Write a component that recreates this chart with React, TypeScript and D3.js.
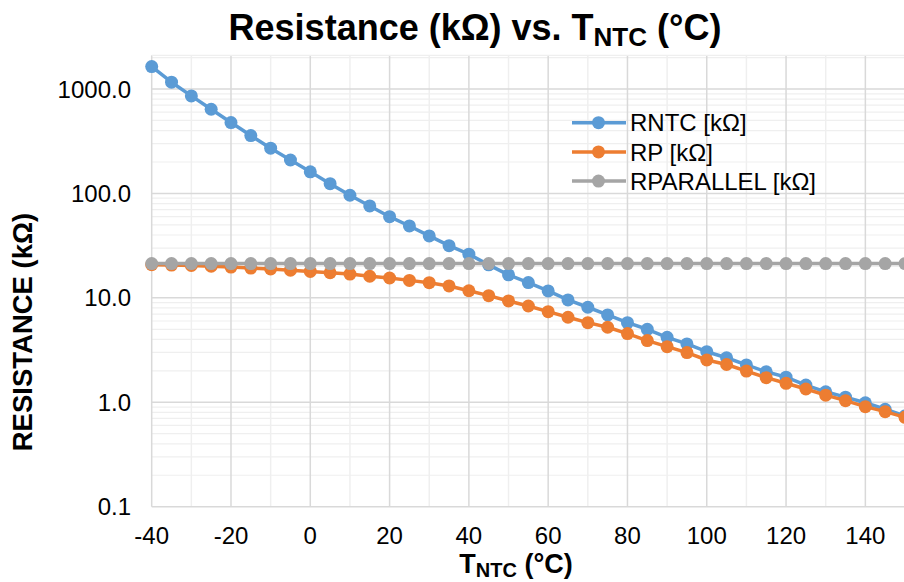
import React from "react";
import * as d3 from "d3";

const temps = [-40,-35,-30,-25,-20,-15,-10,-5,0,5,10,15,20,25,30,35,40,45,50,55,60,65,70,75,80,85,90,95,100,105,110,115,120,125,130,135,140,145,150];
const rntc = [1639,1162,859,640,477,358,271,209,161,124,96.1,75.9,59.9,48.8,39.2,31.6,26.2,20.7,16.6,14.0,11.65,9.55,8.13,6.86,5.78,5.0,4.19,3.62,3.05,2.67,2.28,1.96,1.74,1.46,1.26,1.12,0.99,0.857,0.739];
const rp = [20.8,20.6,20.4,20.1,19.7,19.3,18.9,18.4,17.9,17.4,16.9,16.1,15.5,14.7,13.98,13.0,11.7,10.5,9.34,8.36,7.38,6.52,5.79,5.23,4.55,3.9,3.41,2.99,2.54,2.3,1.99,1.72,1.52,1.34,1.17,1.036,0.908,0.813,0.718];
const rparallel = [21.3,21.3,21.3,21.3,21.3,21.3,21.3,21.3,21.3,21.3,21.3,21.3,21.3,21.3,21.3,21.3,21.3,21.3,21.3,21.3,21.3,21.3,21.3,21.3,21.3,21.3,21.3,21.3,21.3,21.3,21.3,21.3,21.3,21.3,21.3,21.3,21.3,21.3,21.3];
const seriesNames = ["RNTC [kΩ]", "RP [kΩ]", "RPARALLEL [kΩ]"];
const seriesColors = ["#5B9BD5", "#ED7D31", "#A5A5A5"];
const xTicks = [-40,-20,0,20,40,60,80,100,120,140];
const yTicks = [0.1,1,10,100,1000];
const yTickLabels = ["0.1","1.0","10.0","100.0","1000.0"];

const W = 904, H = 582;
const FONT = "'Liberation Sans', Arial, sans-serif";

export default function App() {
  const x = d3.scaleLinear().domain([-40, 150]).range([151.7, 905]);
  const y = d3.scaleLog().domain([0.1, 1000]).range([506.7, 89]);
  const yTop = y(2100);
  const yBot = y(0.1);
  const line = d3.line<[number, number]>().x(d => x(d[0])).y(d => y(d[1]));
  const allSeries = [rntc, rp, rparallel];

  const minorY: number[] = [];
  [0.1, 1, 10, 100, 1000].forEach(dec => {
    for (let k = 2; k <= 9; k++) {
      const v = dec * k;
      if (v <= 2000) minorY.push(v);
    }
  });
  const minorX = d3.range(-30, 151, 20);

  return (
    <svg width={W} height={H} style={{ position: "absolute", left: 0, top: 0, background: "#fff" }} fontFamily={FONT}>
      <rect x={0} y={0} width={W} height={H} fill="#fff" />
      {/* minor grid */}
      {minorY.map((v, i) => (
        <line key={"my" + i} x1={x(-40)} x2={x(150)} y1={y(v)} y2={y(v)} stroke="#efefef" strokeWidth={1.2} />
      ))}
      {minorX.map((v, i) => (
        <line key={"mx" + i} x1={x(v)} x2={x(v)} y1={yTop} y2={yBot} stroke="#efefef" strokeWidth={1.5} />
      ))}
      {/* major grid */}
      {yTicks.map((v, i) => (
        <line key={"gy" + i} x1={x(-40)} x2={x(150)} y1={y(v)} y2={y(v)} stroke="#d9d9d9" strokeWidth={1.5} />
      ))}
      {xTicks.map((v, i) => (
        <line key={"gx" + i} x1={x(v)} x2={x(v)} y1={yTop} y2={yBot} stroke="#d9d9d9" strokeWidth={1.5} />
      ))}
      <line x1={x(-40)} x2={x(150)} y1={yTop} y2={yTop} stroke="#efefef" strokeWidth={1.2} />

      {/* series */}
      {allSeries.map((s, si) => {
        const pts = temps.map((t, i) => [t, s[i]] as [number, number]);
        return (
          <g key={"s" + si}>
            <path d={line(pts) || ""} fill="none" stroke={seriesColors[si]} strokeWidth={3.5} strokeLinejoin="round" />
            {pts.map((p, i) => (
              <circle key={i} cx={x(p[0])} cy={y(p[1])} r={6.5} fill={seriesColors[si]} />
            ))}
          </g>
        );
      })}

      {/* y tick labels */}
      {yTicks.map((v, i) => (
        <text key={"yt" + i} x={131} y={y(v)} dy="0.36em" textAnchor="end" fontSize={24} fill="#000">{yTickLabels[i]}</text>
      ))}
      {/* x tick labels */}
      {xTicks.map((v, i) => (
        <text key={"xt" + i} x={x(v)} y={544} textAnchor="middle" fontSize={24} fill="#000">{v}</text>
      ))}

      {/* title */}
      <text x={475} y={40} textAnchor="middle" fontSize={36} fontWeight="bold" fill="#000">
        Resistance (kΩ) vs. T<tspan fontSize={26} dy={6}>NTC</tspan><tspan dy={-6}> (°C)</tspan>
      </text>

      {/* x axis title */}
      <text x={516} y={573} textAnchor="middle" fontSize={27} fontWeight="bold" fill="#000">
        T<tspan fontSize={20} dy={4}>NTC</tspan><tspan dy={-4}> (°C)</tspan>
      </text>

      {/* y axis title */}
      <text transform={`translate(32, ${332}) rotate(-90)`} textAnchor="middle" fontSize={27.5} fontWeight="bold" fill="#000">RESISTANCE (kΩ)</text>

      {/* legend */}
      {seriesNames.map((n, i) => {
        const ly = 122.7 + i * 29.2;
        return (
          <g key={"lg" + i}>
            <line x1={572} x2={626} y1={ly} y2={ly} stroke={seriesColors[i]} strokeWidth={3.5} />
            <circle cx={598.5} cy={ly} r={6.5} fill={seriesColors[i]} />
            <text x={630} y={ly} dy="0.36em" fontSize={24} fill="#000">{n}</text>
          </g>
        );
      })}
    </svg>
  );
}
